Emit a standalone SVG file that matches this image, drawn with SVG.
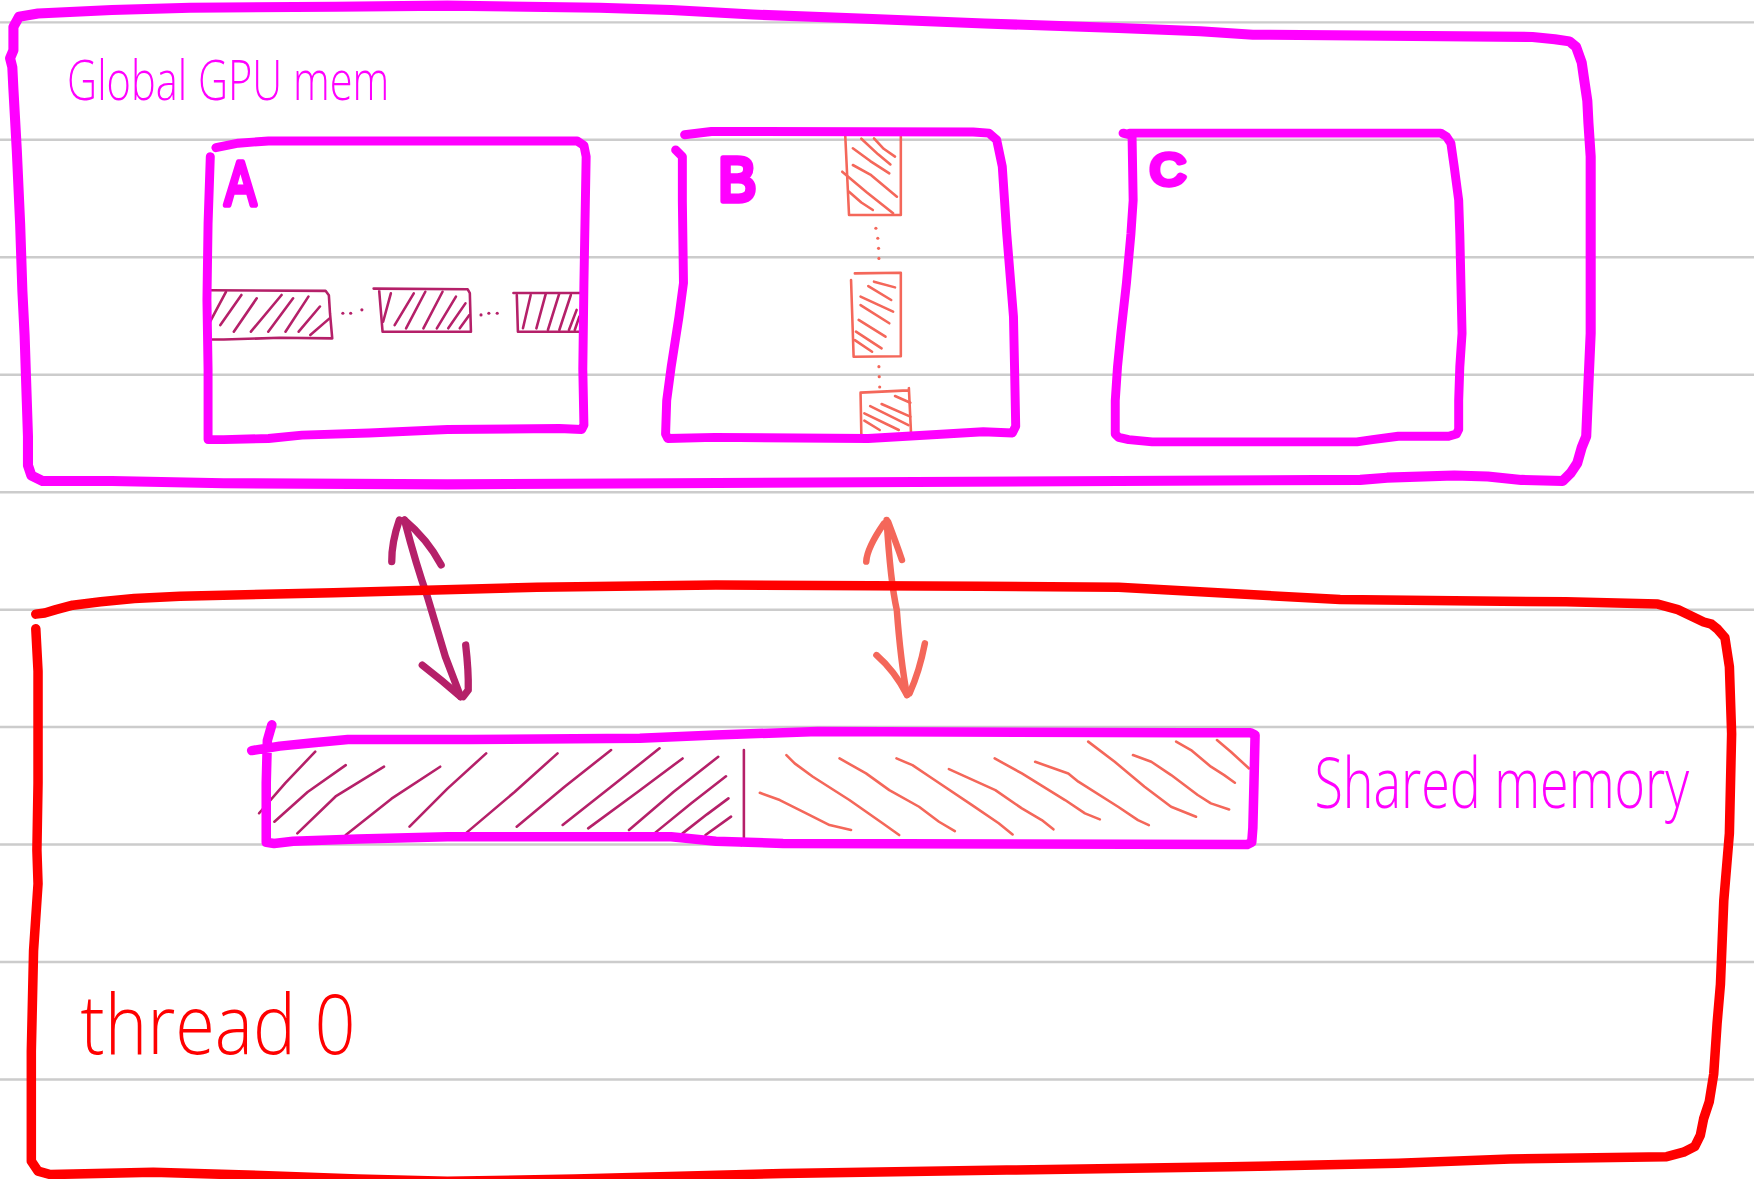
<svg xmlns="http://www.w3.org/2000/svg" width="1754" height="1179" viewBox="0 0 1754 1179">
<style>
.grid{stroke:#cccccc;stroke-width:2.2;fill:none}
.mag{fill:none;stroke:#ff00ff;stroke-linecap:round;stroke-linejoin:round}
.outer{stroke-width:9}
.box{stroke-width:8}
.sm{stroke-width:8.5}
.redbox{fill:none;stroke:#ff0000;stroke-width:8.5;stroke-linecap:round;stroke-linejoin:round}
.mt{fill:none;stroke:#b52069;stroke-width:2.3;stroke-linecap:round;stroke-linejoin:round}
.ct{fill:none;stroke:#f4675a;stroke-width:2.3;stroke-linecap:round;stroke-linejoin:round}
.dotm{fill:#b52069}
.dotc{fill:#f4675a}
.arM{fill:none;stroke:#b52069;stroke-width:6.5;stroke-linecap:round;stroke-linejoin:round}
.arC{fill:none;stroke:#f4675a;stroke-width:5.8;stroke-linecap:round;stroke-linejoin:round}
.hand{font-family:'Open Sans','Liberation Sans',sans-serif;font-weight:300}
.letter{font-family:'Liberation Sans',sans-serif;font-weight:400;fill:#ff00ff;stroke:#ff00ff;stroke-width:5;stroke-linejoin:round;stroke-linecap:round}
</style>
<rect width="1754" height="1179" fill="#ffffff"/>
<g transform="scale(1.118622)">
<g id="ruled-lines">
<path class="grid" d="M0,20H1568M0,125H1568M0,230H1568M0,335H1568M0,440H1568M0,545H1568M0,650H1568M0,755H1568M0,860H1568M0,965H1568"/>
</g>

<g id="global-mem">
<path class="mag outer" d="M12,24 L12,45 L9,52 L11,60 L12,80 L15,134 L18,200 L20,260 L22,300 L24,360 L25,390 L25,416 L28,425 L38,430 L100,430 L200,432 L400,433 L600,432 L1000,430 L1216,429 L1240,427 L1300,425 L1330,426 L1360,429 L1397,430 L1404,423 L1410,414 L1414,400 L1418,390 L1420,343 L1422,298 L1422,140 L1420,110 L1419,90 L1416,70 L1414,56 L1409,42 L1403,37 L1390,35 L1370,33 L1120,31 L1073,28 L1000,25 L880,21 L780,17 L673,13 L600,9 L536,7 L400,5 L300,6 L170,7 L100,9 L34,12 L17,15 Z"/>
<text class="hand" x="60" y="89" font-size="50" fill="#ff00ff" textLength="288" lengthAdjust="spacingAndGlyphs">Global GPU mem</text>
</g>

<g id="matrix-A">
<path class="mt" d="M188,259.5 L291,260 L294,264 L295,280 L297,302.5 L250,302 L200,303.5 L190,303.5"/>
<path class="mt" d="M187,289 L202,261 M197,290.6 L215.8,263.7 M209,296.5 L229.5,266.7 M224.3,296.5 L251.7,263.7 M239.8,296.5 L262,266.7 M255.2,296.5 L275.7,265.2 M267,296.5 L286,274 M277.4,299.5 L294.6,284.6"/>
<circle class="dotm" cx="306.5" cy="280" r="1.4"/><circle class="dotm" cx="313.5" cy="280" r="1.4"/><circle class="dotm" cx="323.5" cy="277" r="1.4"/>
<path class="mt" d="M334,258 L418,258.5 L420,262 L421,296.5 L342,296.5 L339,260"/>
<path class="mt" d="M342.5,287.6 L349.4,262.2 M352.8,290.6 L369.9,262.2 M363,293.5 L380.2,260.8 M378.5,293.5 L395.6,260.8 M390.5,293.5 L407.6,265.2 M400.7,293.5 L416.1,271.2 M411,293.5 L419.6,281.6"/>
<circle class="dotm" cx="430" cy="281.5" r="1.4"/><circle class="dotm" cx="437" cy="280" r="1.4"/><circle class="dotm" cx="444.5" cy="280" r="1.4"/>
<path class="mt" d="M459,262 L523,262 M462,264 L463,296.5 L523,296.5"/>
<path class="mt" d="M467.5,293.5 L474.4,263.7 M479.5,293.5 L488,262.2 M489.8,295 L500,262.2 M500,295 L510.3,263.7 M508.6,295 L515.5,277 M513.8,295 L517.9,283"/>
<path class="mag box" d="M188,140 L186,200 L185,268 L186,330 L186,393 L200,393 L240,392 L270,389 L330,387 L400,384 L500,383 L520,384 L522,380 L521,330 L522,253 L524,140 L522,130 L516,126 L240,126 L213,128 L193,132"/>
<text class="letter" x="201" y="183" font-size="56" textLength="28" lengthAdjust="spacingAndGlyphs">A</text>
</g>

<g id="matrix-B">
<path class="ct" d="M755.6,120.7 L759,192.2 L805.3,192.2 L805.3,122"/>
<path class="ct" d="M781.3,123.7 L790,133 L800.1,140 M762.4,132.6 L778,144 L795,155 M762.4,147.5 L778,156 L801.8,175.8 M752.9,153.5 L775,172 L798.4,190.7 M759,171.4 L770,181 L780.3,187.7 M770,124 L785,138 L796,147"/>
<circle class="dotc" cx="783" cy="204" r="1.4"/><circle class="dotc" cx="784.7" cy="213" r="1.4"/><circle class="dotc" cx="785.4" cy="222" r="1.4"/><circle class="dotc" cx="785.7" cy="231" r="1.4"/>
<path class="ct" d="M760.8,250.3 L763.1,318.9 L805.3,318.4 L805.3,243.8 L764.2,244.4"/>
<path class="ct" d="M781.3,251.8 L800.1,256.9 M776.2,255.7 L796.7,268.2 M769.3,265.2 L798.4,278.6 M769.3,272.7 L795,289 M767.6,286 L791.6,301 M765.2,296.5 L788.1,311.4 M764.2,304 L779.6,314.4"/>
<circle class="dotc" cx="785.7" cy="327.8" r="1.4"/><circle class="dotc" cx="786" cy="336.7" r="1.4"/><circle class="dotc" cx="786.4" cy="346" r="1.4"/>
<path class="ct" d="M769.3,351.6 L770,389 M769.3,351 L812,349 M812.5,347 L814.5,389"/>
<path class="ct" d="M800.1,354 L813.8,360 M788.1,361.2 L813.8,372.5 M777.9,363 L812.1,380 M772.7,369.5 L803.5,384.4 M772.7,376 L786.4,384.4"/>
<path class="mag box" d="M604,134 L610,140 L610,180 L611,253 L607,283 L600,328 L596,358 L595,388 L597,392 L639,391 L776,392 L845,388 L879,386 L905,387 L908,381 L907,330 L906,283 L900,209 L896,149 L891,125 L884,119 L870,118 L636,117.5 L612,120.5"/>
<text class="letter" x="642" y="180" font-size="56" textLength="34" lengthAdjust="spacingAndGlyphs">B</text>
</g>

<g id="matrix-C">
<path class="mag box" d="M1004,119 L1012,121 L1013,179 L1011,209 L1007,253 L1002,298 L999,328 L997,358 L997,388 L1000,391 L1009,393 L1030,395 L1213,395 L1227,393 L1250,390 L1295,390 L1302,388 L1304,384 L1304,358 L1305,328 L1307,298 L1305,209 L1304,179 L1300,149 L1297,128 L1293,122 L1288,119 L1010,119"/>
<text class="letter" x="1028" y="165" font-size="40" textLength="32" lengthAdjust="spacingAndGlyphs">C</text>
</g>

<g id="connectors">
<path class="arM" d="M361.6,464.9 Q372,505 382.1,533.4 Q390,560 398.1,587 Q405,605 411.8,622.8"/>
<path class="arM" d="M357,464.9 Q350,485 350.2,502.1 M361.6,464.9 Q382,482 394.4,505"/>
<path class="arM" d="M377.5,594.5 Q395,608 411.8,622.8 M416.3,576.6 Q419,600 418.6,616.9 L414,622.8"/>
<path class="arC" d="M792.6,464.9 Q796,520 801.7,545.3 Q805,590 810.8,621.3"/>
<path class="arC" d="M790.3,467.9 Q775,490 774.4,502 M793.9,466.4 Q802,488 806.3,500.6"/>
<path class="arC" d="M783.5,585.6 Q800,600 810.8,621.3 M826.8,575.1 Q822,600 813.1,619.8"/>
</g>

<g id="thread0">
<path class="redbox" d="M32,562 L34,600 L34,700 L33,760 L34,790 L30,850 L28,940 L28,1038 L34,1047 L45,1050 L137,1048 L240,1051 L320,1054 L400,1056 L514,1054 L700,1049 L900,1046 L1100,1043 L1250,1040 L1350,1036 L1490,1034 L1505,1030 L1515,1025 L1520,1015 L1523,1000 L1528,985 L1532,960 L1535,915 L1538,880 L1541,805 L1546,745 L1548,656 L1546,596 L1542,570 L1535,562 L1530,558 L1523,556 L1500,545 L1482,540 L1400,538 L1300,537 L1198,536 L1000,525 L876,524 L640,523 L480,525 L298,530 L161,533 L120,535 L90,538 L65,541 L50,545 L40,548 L32,549"/>
<text class="hand" transform="translate(72,942) scale(1,1.15)" font-size="64" fill="#ff0000" textLength="246" lengthAdjust="spacingAndGlyphs">thread 0</text>
</g>

<g id="shared-mem">
<path class="mt" d="M231.6,727 L255,700 L281.8,672 M245.3,734.6 L275,708 L309.1,684 M265.8,745 L300,712 L343.3,685.4 M309.1,746.5 L350,714 L393.5,685.4 M366.1,739 L400,705 L434.6,673.5 M416.3,745 L460,708 L498.4,673.5 M461.9,739 L505,703 L546.3,670.5 M503,737.5 L548,702 L589.6,669 M525.8,740.5 L570,708 L610.2,678 M562.3,742 L602,708 L642.1,676.5 M585,745 L618,718 L649,694 M610.2,745 L632,728 L651.2,713.7 M630.7,746.5 L653.5,730"/>
<path class="mt" d="M665,670.5 L665,754 L662.6,755.5"/>
<path class="ct" d="M679.3,708.7 L697.1,715.2 L720.8,727.1 L741.6,737.6 L760.8,742 M703,675 L710.4,682.4 L726.7,694.4 L759.3,715.2 L789,736 L803.8,746.5 M750.5,678 L774.2,691.4 L795,706.3 L821.6,721.2 L839.4,734.6 L853.6,743 M801.4,678 L815.7,684 L833.5,695.9 L869,719.7 L892.8,736 L905.2,746 M848.3,687.5 L889.8,706.3 L913.5,722.7 L931.3,733.1 L941.7,741.4 M889.2,678 L913.5,691.4 L952.1,715.2 L969.9,727.1 L983.2,732.5 M925.4,681 L955,691.4 L964,698.8 L999.5,721.2 L1017.3,733.1 L1027,737.6 M972.8,663 L996.5,681 L1023.2,703.3 L1046.9,721.2 L1069.2,730.1 M1012.8,675 L1029.2,681 L1047,692.9 L1070.7,710.7 L1082.5,718.2 L1098.8,723.6 M1051.4,663 L1064.7,670.5 L1082.5,685.4 L1094.4,692.9 L1103.9,699.7 M1087.9,661.6 L1100.3,672 L1116.6,687"/>
<path class="mag sm" d="M243,648 L239,662 L238,700 L238,753 L245,754 L262,752 L320,750 L400,748 L600,748 L640,752 L700,754 L1115,755 L1119,753 L1120,740 L1121,700 L1122,657 L1118,655 L1060,655 L731,654 L640,657 L572,660 L420,661 L311,661 L280,664 L250,667 L225,671"/>
<text class="hand" transform="translate(1175,722) scale(1,1.2)" font-size="52" fill="#ff00ff" textLength="335" lengthAdjust="spacingAndGlyphs">Shared memory</text>
</g>
</g>
</svg>
